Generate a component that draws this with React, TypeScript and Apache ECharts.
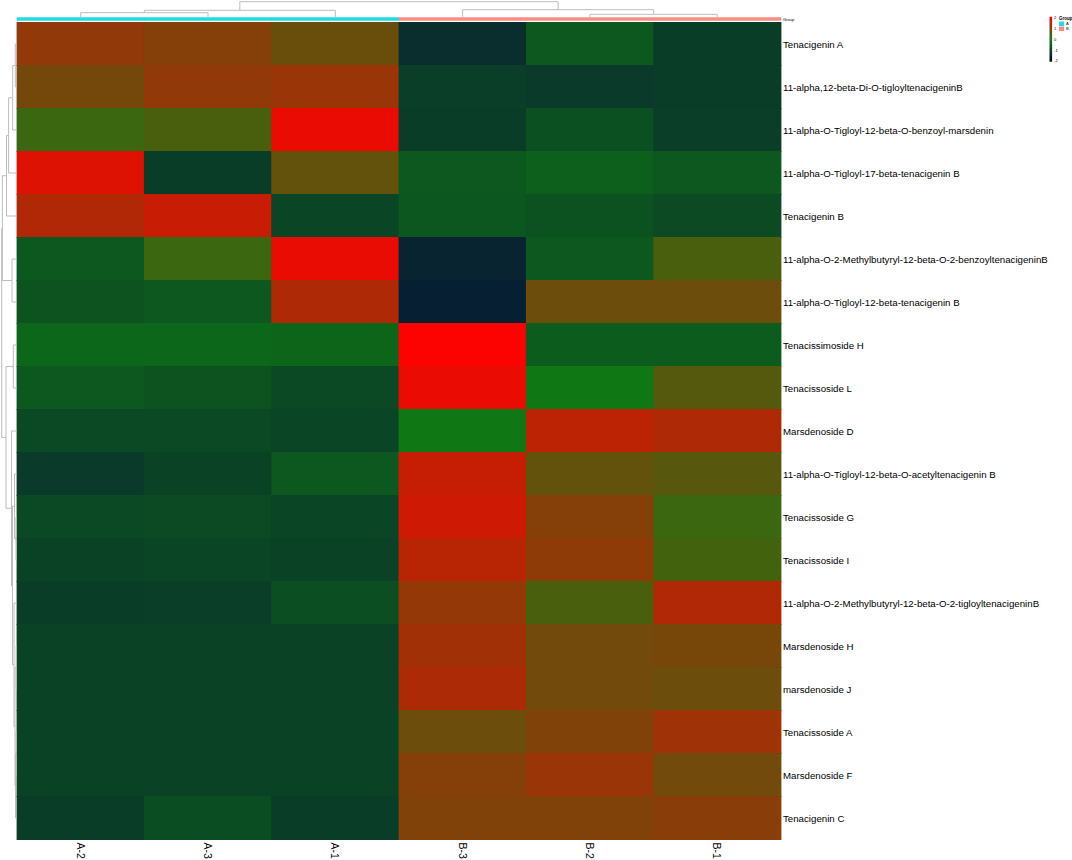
import React, { useEffect, useRef } from 'react';
import * as echarts from 'echarts';

const colLabels = ['A-2', 'A-3', 'A-1', 'B-3', 'B-2', 'B-1'];
const colGroups = ['A', 'A', 'A', 'B', 'B', 'B'];
const rowLabels = [
  'Tenacigenin A',
  '11-alpha,12-beta-Di-O-tigloyltenacigeninB',
  '11-alpha-O-Tigloyl-12-beta-O-benzoyl-marsdenin',
  '11-alpha-O-Tigloyl-17-beta-tenacigenin B',
  'Tenacigenin B',
  '11-alpha-O-2-Methylbutyryl-12-beta-O-2-benzoyltenacigeninB',
  '11-alpha-O-Tigloyl-12-beta-tenacigenin B',
  'Tenacissimoside H',
  'Tenacissoside L',
  'Marsdenoside D',
  '11-alpha-O-Tigloyl-12-beta-O-acetyltenacigenin B',
  'Tenacissoside G',
  'Tenacissoside I',
  '11-alpha-O-2-Methylbutyryl-12-beta-O-2-tigloyltenacigeninB',
  'Marsdenoside H',
  'marsdenoside J',
  'Tenacissoside A',
  'Marsdenoside F',
  'Tenacigenin C',
];

// row z-scores, one array per column (rows in display order)
const valsA2 = [1.12, 0.87, 0.37, 1.78, 1.4, -0.62, -0.71, -0.37, -0.62, -0.87, -1.12, -0.87, -1.0, -1.08, -1.0, -1.0, -1.0, -1.0, -1.08];
const valsA3 = [1.02, 1.12, 0.5, -1.08, 1.6, 0.37, -0.62, -0.37, -0.71, -0.87, -1.0, -0.85, -0.95, -1.06, -1.0, -1.0, -1.0, -1.0, -0.8];
const valsA1 = [0.78, 1.2, 1.89, 0.72, -0.95, 1.87, 1.37, -0.41, -0.87, -0.95, -0.62, -0.95, -1.0, -0.79, -1.0, -1.0, -1.0, -1.0, -1.08];
const valsB3 = [-1.33, -1.06, -1.08, -0.62, -0.64, -1.49, -1.58, 2.04, 1.89, -0.08, 1.58, 1.65, 1.45, 1.15, 1.27, 1.35, 0.8, 1.02, 0.98];
const valsB2 = [-0.62, -1.12, -0.75, -0.5, -0.72, -0.62, 0.8, -0.54, -0.08, 1.49, 0.72, 1.02, 1.1, 0.5, 0.85, 0.85, 0.98, 1.2, 0.98];
const valsB1 = [-1.08, -1.08, -1.06, -0.62, -0.85, 0.5, 0.8, -0.54, 0.6, 1.37, 0.62, 0.37, 0.45, 1.4, 0.9, 0.8, 1.25, 0.85, 1.05];
const columns = [valsA2, valsA3, valsA1, valsB3, valsB2, valsB1];

const legendTicks = [-2, -1, 0, 1, 2];
const scaleMin = -2.07;
const scaleMax = 2.07;
const palette = ['#05023c', '#0f7d12', '#ff0000'];
const groupColors: Record<string, string> = { A: '#1FDCE2', B: '#FA8C84' };

// dendrograms: [left, right, height]; negative = leaf (1-based display order)
const colMerges: [number, number, number][] = [
  [-1, -2, 4.3],
  [-5, -6, 2.7],
  [1, -3, 6.7],
  [-4, 2, 7.3],
  [3, 4, 15.3],
];
const rowMerges: [number, number, number][] = [
  [-1, -2, 1.7],
  [1, -3, 4.3],
  [2, -4, 8.4],
  [3, -5, 10.5],
  [-6, -7, 5.0],
  [4, 5, 14.6],
  [-8, -9, 3.7],
  [-12, -13, 1.0],
  [-11, 8, 2.5],
  [-15, -16, 0.8],
  [-17, -18, 1.0],
  [11, -19, 1.5],
  [10, 12, 2.0],
  [-14, 13, 3.0],
  [9, 14, 4.5],
  [-10, 15, 5.5],
  [7, 16, 11.0],
  [6, 17, 15.3],
];

function dendroSegments(merges: [number, number, number][]) {
  const pos: number[] = [];
  const hgt: number[] = [];
  const get = (id: number) => (id < 0 ? [-id - 1 + 0.5, 0] : [pos[id - 1], hgt[id - 1]]);
  const segs: number[][] = [];
  merges.forEach(([a, b, h], k) => {
    const [pa, ha] = get(a);
    const [pb, hb] = get(b);
    segs.push([pa, ha, pa, h], [pb, hb, pb, h], [pa, h, pb, h]);
    pos[k] = (pa + pb) / 2;
    hgt[k] = h;
  });
  return segs;
}

const FONT = 'Liberation Sans, Arial, Helvetica, sans-serif';
const LINE = '#bdbdbd';

export default function App() {
  const ref = useRef<HTMLDivElement>(null);
  useEffect(() => {
    const chart = echarts.init(ref.current!, null, { renderer: 'svg' });
    const heatData: number[][] = [];
    columns.forEach((col, ci) => col.forEach((v, ri) => heatData.push([ci, ri, v])));
    const colSegs = dendroSegments(colMerges);
    const rowSegs = dendroSegments(rowMerges).map(([p1, h1, p2, h2]) => [h1, p1, h2, p2]);

    const lineItem = (params: any, api: any) => {
      const a = api.coord([api.value(0), api.value(1)]);
      const b = api.coord([api.value(2), api.value(3)]);
      return {
        type: 'line',
        shape: { x1: a[0], y1: a[1], x2: b[0], y2: b[1] },
        style: { stroke: LINE, lineWidth: 1 },
      };
    };

    const G = (o: any) => ({ outerBoundsMode: 'none', containLabel: false, ...o });

    const option: any = {
      animation: false,
      backgroundColor: '#ffffff',
      textStyle: { fontFamily: FONT },
      grid: [
        G({ left: 17, top: 22.5, width: 764, height: 817 }),
        G({ left: 17, top: 17.2, width: 764, height: 3.6 }),
        G({ left: 17, top: 0, width: 764, height: 17 }),
        G({ left: 0, top: 22.5, width: 17, height: 817 }),
        G({ left: 1049.5, top: 16.7, width: 2.6, height: 45 }),
      ],
      xAxis: [
        {
          type: 'category', gridIndex: 0, data: colLabels,
          axisLine: { show: false }, axisTick: { show: false }, splitLine: { show: false },
          axisLabel: { rotate: -90, fontSize: 10.5, color: '#000', margin: 3, fontFamily: FONT },
        },
        { type: 'category', gridIndex: 1, data: colLabels, show: false },
        { type: 'value', gridIndex: 2, min: 0, max: 6, show: false },
        { type: 'value', gridIndex: 3, min: 0, max: 17, inverse: true, show: false },
        { type: 'value', gridIndex: 4, min: 0, max: 1, show: false },
      ],
      yAxis: [
        {
          type: 'category', gridIndex: 0, data: rowLabels, inverse: true, position: 'right',
          axisLine: { show: false }, axisTick: { show: false }, splitLine: { show: false },
          axisLabel: { fontSize: 9.7, color: '#000', margin: 2, fontFamily: FONT },
        },
        {
          type: 'category', gridIndex: 1, data: ['Group'], position: 'right',
          axisLine: { show: false }, axisTick: { show: false },
          axisLabel: { fontSize: 4, color: '#000', margin: 2, fontFamily: FONT },
        },
        { type: 'value', gridIndex: 2, min: 0, max: 17, show: false },
        { type: 'value', gridIndex: 3, min: 0, max: 19, inverse: true, show: false },
        {
          type: 'value', gridIndex: 4, min: scaleMin, max: scaleMax, position: 'right',
          axisLine: { show: false }, axisTick: { show: false }, splitLine: { show: false },
          axisLabel: { customValues: legendTicks, fontSize: 4, color: '#000', margin: 2, fontFamily: FONT },
        },
      ],
      visualMap: {
        type: 'continuous', show: false, min: scaleMin, max: scaleMax, seriesIndex: 0, dimension: 2,
        inRange: { color: palette },
      },
      series: [
        {
          type: 'custom', xAxisIndex: 0, yAxisIndex: 0, data: heatData,
          encode: { x: 0, y: 1 },
          renderItem: (params: any, api: any) => {
            const p = api.coord([api.value(0), api.value(1)]);
            const s = api.size([1, 1]);
            return {
              type: 'rect',
              shape: { x: p[0] - s[0] / 2 - 0.4, y: p[1] - s[1] / 2 - 0.4, width: s[0] + 0.8, height: s[1] + 0.8 },
              style: { fill: api.visual('color') },
            };
          },
        },
        {
          type: 'custom', xAxisIndex: 1, yAxisIndex: 1,
          data: colGroups.map((g, i) => [i, 0, g]),
          renderItem: (params: any, api: any) => {
            const p = api.coord([api.value(0), 0]);
            const s = api.size([1, 1]);
            const g = colGroups[params.dataIndex];
            return {
              type: 'rect',
              shape: { x: p[0] - s[0] / 2 - 0.3, y: p[1] - s[1] / 2, width: s[0] + 0.6, height: s[1] },
              style: { fill: groupColors[g] },
            };
          },
        },
        {
          type: 'custom', xAxisIndex: 2, yAxisIndex: 2, data: colSegs,
          encode: { x: [0, 2], y: [1, 3] }, renderItem: lineItem, clip: false,
        },
        {
          type: 'custom', xAxisIndex: 3, yAxisIndex: 3, data: rowSegs,
          encode: { x: [0, 2], y: [1, 3] }, renderItem: lineItem, clip: false,
        },
        {
          type: 'custom', xAxisIndex: 4, yAxisIndex: 4, data: [[0, scaleMin, 1, scaleMax]],
          encode: { x: [0, 2], y: [1, 3] },
          renderItem: (params: any, api: any) => {
            const a = api.coord([api.value(0), api.value(3)]);
            const b = api.coord([api.value(2), api.value(1)]);
            return {
              type: 'rect',
              shape: { x: a[0], y: a[1], width: b[0] - a[0], height: b[1] - a[1] },
              style: {
                fill: new echarts.graphic.LinearGradient(0, 0, 0, 1, [
                  { offset: 0, color: palette[2] },
                  { offset: 0.5, color: palette[1] },
                  { offset: 1, color: palette[0] },
                ]),
              },
            };
          },
        },
      ],
      graphic: [
        { type: 'text', left: 1059, top: 15.5, style: { text: 'Group', fontSize: 4.5, fill: '#000', fontFamily: FONT, fontWeight: 'bold' } },
        { type: 'rect', left: 1059, top: 21.5, shape: { width: 5, height: 4.5 }, style: { fill: groupColors.A } },
        { type: 'text', left: 1066, top: 21.8, style: { text: 'A', fontSize: 4, fill: '#000', fontFamily: FONT } },
        { type: 'rect', left: 1059, top: 26.5, shape: { width: 5, height: 4.5 }, style: { fill: groupColors.B } },
        { type: 'text', left: 1066, top: 26.8, style: { text: 'B', fontSize: 4, fill: '#000', fontFamily: FONT } },
      ],
    };
    chart.setOption(option);
    return () => chart.dispose();
  }, []);
  return (
    <div
      ref={ref}
      style={{ position: 'fixed', left: 0, top: 0, width: 1072, height: 860, background: '#fff' }}
    />
  );
}
